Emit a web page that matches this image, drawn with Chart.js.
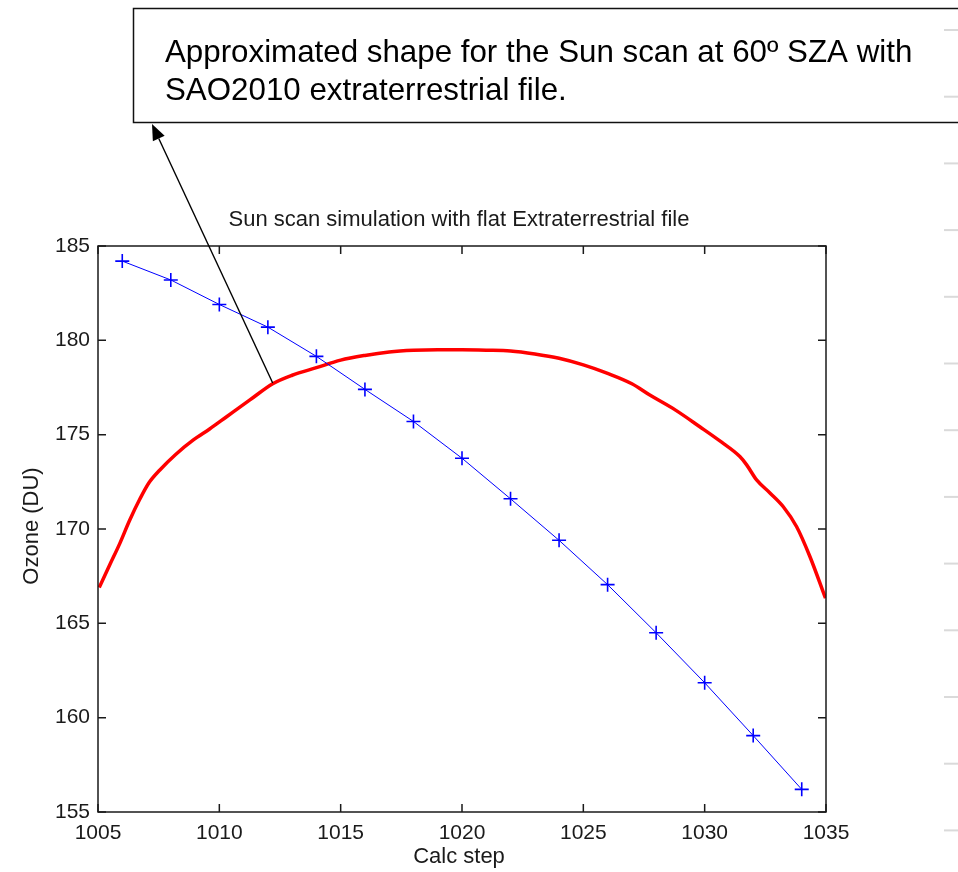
<!DOCTYPE html>
<html><head><meta charset="utf-8">
<script src="https://cdn.jsdelivr.net/npm/chart.js@4.4.1/dist/chart.umd.min.js"></script>
<style>html,body{margin:0;padding:0;background:#fff;overflow:hidden}#wrap{width:958px;height:872px;position:relative}</style>
</head><body><div id="wrap"><canvas id="c" width="958" height="872"></canvas></div>
<script>
// ---- data ----
const blueX = [1006, 1008, 1010, 1012, 1014, 1016, 1018, 1020, 1022, 1024, 1026, 1028, 1030, 1032, 1034];
const blueY = [184.2, 183.2, 181.9, 180.7, 179.15, 177.4, 175.7, 173.75, 171.6, 169.4, 167.05, 164.5, 161.85, 159.05, 156.2];
const redX = [1005.05, 1005.5, 1005.9, 1006.3, 1006.73, 1007.1, 1007.55, 1008.2, 1008.93, 1009.6, 1010.3, 1011.26, 1012.2, 1013, 1014, 1015, 1016, 1017, 1018, 1019, 1020, 1021, 1022, 1023, 1024, 1025, 1026, 1027, 1027.74, 1028.8, 1029.8, 1030.7, 1031.45, 1031.73, 1032.14, 1032.7, 1033.24, 1033.79, 1034.34, 1034.98];
const redY = [166.9, 168.14, 169.24, 170.45, 171.6, 172.45, 173.13, 173.95, 174.72, 175.3, 175.95, 176.84, 177.7, 178.15, 178.55, 178.95, 179.2, 179.38, 179.47, 179.5, 179.5, 179.48, 179.44, 179.28, 179.05, 178.7, 178.25, 177.7, 177.1, 176.3, 175.42, 174.6, 173.84, 173.4, 172.6, 171.9, 171.18, 170.12, 168.53, 166.33];
const xTickValues = [1005, 1010, 1015, 1020, 1025, 1030, 1035];
const yTickValues = [155, 160, 165, 170, 175, 180, 185];
const chartTitle = 'Sun scan simulation with flat Extraterrestrial file';
const xLabel = 'Calc step';
const yLabel = 'Ozone (DU)';
const noteLines = ['Approximated shape for the Sun scan at 60\u00BA SZA with', 'SAO2010 extraterrestrial file.'];
const notePointer = {x: 1012.2, y: 177.74};

const FONT = "'Liberation Sans', Arial, Helvetica, sans-serif";
const INK = '#1a1a1a';

const decor = {
  id: 'decor',
  beforeDraw(chart) {
    const ctx = chart.ctx;
    ctx.save();
    ctx.fillStyle = '#fff';
    ctx.fillRect(0, 0, chart.width, chart.height);
    ctx.restore();
  },
  afterDatasetsDraw(chart) {
    const ctx = chart.ctx, a = chart.chartArea;
    const xs = chart.scales.x, ys = chart.scales.y;
    ctx.save();
    ctx.strokeStyle = INK;
    ctx.lineWidth = 1.5;
    ctx.strokeRect(a.left, a.top, a.right - a.left, a.bottom - a.top);
    const tl = 8;
    ctx.beginPath();
    xTickValues.forEach(v => {
      const px = xs.getPixelForValue(v);
      ctx.moveTo(px, a.bottom); ctx.lineTo(px, a.bottom - tl);
      ctx.moveTo(px, a.top); ctx.lineTo(px, a.top + tl);
    });
    yTickValues.forEach(v => {
      const py = ys.getPixelForValue(v);
      ctx.moveTo(a.left, py); ctx.lineTo(a.left + tl, py);
      ctx.moveTo(a.right, py); ctx.lineTo(a.right - tl, py);
    });
    ctx.stroke();
    // titles
    ctx.fillStyle = INK;
    ctx.textAlign = 'center';
    ctx.textBaseline = 'middle';
    ctx.font = '22px ' + FONT;
    ctx.fillText(chartTitle, 459, 220);
    ctx.fillText(xLabel, 459, 857);
    ctx.save();
    ctx.translate(32, 526);
    ctx.rotate(-Math.PI / 2);
    ctx.fillText(yLabel, 0, 0);
    ctx.restore();
    ctx.restore();
  },
  afterDraw(chart) {
    const ctx = chart.ctx;
    const xs = chart.scales.x, ys = chart.scales.y;
    ctx.save();
    // callout box
    ctx.fillStyle = '#fff';
    ctx.fillRect(133, 8, 900, 115);
    ctx.strokeStyle = '#111';
    ctx.lineWidth = 1.5;
    ctx.strokeRect(133.5, 8.5, 900, 114);
    ctx.fillStyle = '#000';
    ctx.font = '31.3px ' + FONT;
    ctx.textAlign = 'left';
    ctx.textBaseline = 'alphabetic';
    ctx.fillText(noteLines[0], 165, 62);
    ctx.fillText(noteLines[1], 165, 100);
    // faint marks at the right edge
    ctx.strokeStyle = '#dadada';
    ctx.lineWidth = 2;
    for (let i = 0; i < 13; i++) {
      const y = 30 + i * 66.7;
      ctx.beginPath(); ctx.moveTo(944, y); ctx.lineTo(958, y); ctx.stroke();
    }
    // arrow
    const tx = xs.getPixelForValue(notePointer.x), ty = ys.getPixelForValue(notePointer.y);
    const hx = 152, hy = 124;
    const ang = Math.atan2(hy - ty, hx - tx);
    const L = 16, W = 6.5;
    const bx = hx - L * Math.cos(ang), by = hy - L * Math.sin(ang);
    ctx.strokeStyle = '#000';
    ctx.lineWidth = 1.4;
    ctx.beginPath(); ctx.moveTo(tx, ty); ctx.lineTo(bx, by); ctx.stroke();
    ctx.fillStyle = '#000';
    ctx.beginPath();
    ctx.moveTo(hx, hy);
    ctx.lineTo(bx + W * Math.sin(ang), by - W * Math.cos(ang));
    ctx.lineTo(bx - W * Math.sin(ang), by + W * Math.cos(ang));
    ctx.closePath(); ctx.fill();
    ctx.restore();
  }
};

new Chart(document.getElementById('c'), {
  type: 'scatter',
  data: {
    datasets: [
      {
        label: 'red',
        data: redX.map((x, i) => ({x, y: redY[i]})),
        showLine: true,
        borderColor: '#ff0000',
        borderWidth: 3.5,
        pointRadius: 0,
        cubicInterpolationMode: 'monotone',
        order: 2
      },
      {
        label: 'blue',
        data: blueX.map((x, i) => ({x, y: blueY[i]})),
        showLine: true,
        borderColor: '#0000ff',
        borderWidth: 1,
        pointStyle: 'cross',
        pointRadius: 7,
        pointBorderWidth: 1.6,
        pointBorderColor: '#0000ff',
        pointBackgroundColor: '#0000ff',
        tension: 0,
        order: 1
      }
    ]
  },
  options: {
    responsive: false,
    animation: false,
    devicePixelRatio: 1,
    layout: {padding: {left: 0, top: 246, right: 132, bottom: 0}},
    plugins: {legend: {display: false}, tooltip: {enabled: false}, title: {display: false}},
    scales: {
      x: {
        type: 'linear', min: 1005, max: 1035,
        afterBuildTicks: s => { s.ticks = xTickValues.map(v => ({value: v})); },
        afterFit: s => { s.height = 60; },
        grid: {display: false, drawTicks: false},
        border: {display: false},
        ticks: {padding: 9, color: INK, font: {family: FONT, size: 21}, callback: v => String(v), maxRotation: 0, autoSkip: false}
      },
      y: {
        type: 'linear', min: 155, max: 185,
        afterBuildTicks: s => { s.ticks = yTickValues.map(v => ({value: v})); },
        afterFit: s => { s.width = 98; },
        grid: {display: false, drawTicks: false},
        border: {display: false},
        ticks: {padding: 8, color: INK, font: {family: FONT, size: 21}, callback: v => String(v), autoSkip: false}
      }
    }
  },
  plugins: [decor]
});
</script></body></html>
